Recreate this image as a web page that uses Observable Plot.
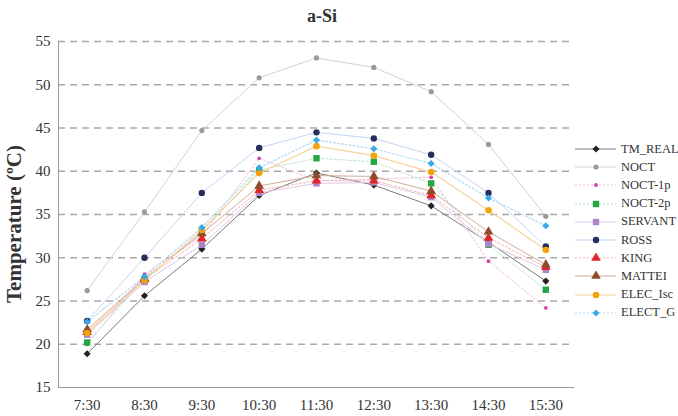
<!DOCTYPE html>
<html>
<head>
<meta charset="utf-8">
<script src="https://cdn.jsdelivr.net/npm/d3@7"></script>
<script src="https://cdn.jsdelivr.net/npm/@observablehq/plot@0.6"></script>
<style>
  body { margin: 0; background: #fff; }
  #wrap { position: relative; width: 678px; height: 416px; overflow: hidden; font-family: "Liberation Serif", "Times New Roman", serif; }
  #title { position: absolute; left: 0; width: 644px; top: 6px; text-align: center; font-weight: bold; font-size: 18px; color: #333; }
  #ylab { position: absolute; left: 14px; top: 224px; transform: translate(-50%, -50%) rotate(-90deg); white-space: nowrap; font-weight: bold; font-size: 21px; color: #333; }
  #legend { position: absolute; left: 575px; top: 140px; font-size: 12.5px; color: #333; }
  .li { height: 18.2px; display: flex; align-items: center; }
  .li svg { margin-right: 5px; }
</style>
</head>
<body>
<div id="wrap">
  <div id="chart"></div>
  <div id="title">a-Si</div>
  <div id="ylab">Temperature (ºC)</div>
  <div id="legend"></div>
</div>
<script>
const times = ["7:30", "8:30", "9:30", "10:30", "11:30", "12:30", "13:30", "14:30", "15:30"];
const seriesNames = ["TM_REAL", "NOCT", "NOCT-1p", "NOCT-2p", "SERVANT", "ROSS", "KING", "MATTEI", "ELEC_Isc", "ELECT_G"];
const TM_REAL  = [18.9, 25.6, 31.0, 37.2, 39.8, 38.4, 36.0, 31.8, 27.3];
const NOCT     = [26.2, 35.3, 44.7, 50.8, 53.1, 52.0, 49.2, 43.1, 34.8];
const NOCT_1p  = [20.0, 28.1, 32.5, 41.5, 38.9, 39.1, 39.3, 29.6, 24.2];
const NOCT_2p  = [20.2, 27.5, 33.0, 40.1, 41.5, 41.1, 38.6, 31.5, 26.3];
const SERVANT  = [21.1, 27.2, 31.5, 37.5, 38.6, 38.7, 37.0, 31.6, 28.6];
const ROSS     = [22.7, 30.0, 37.5, 42.7, 44.5, 43.8, 41.9, 37.5, 31.3];
const KING     = [21.4, 27.5, 32.2, 37.8, 38.9, 38.9, 37.2, 32.3, 28.9];
const MATTEI   = [21.7, 27.6, 32.8, 38.3, 39.5, 39.4, 37.7, 33.0, 29.2];
const ELEC_Isc = [21.3, 27.4, 33.2, 39.8, 42.9, 41.8, 39.9, 35.5, 30.9];
const ELECT_G  = [22.6, 27.8, 33.5, 40.4, 43.6, 42.6, 40.9, 36.9, 33.7];
const yTicks = [15, 20, 25, 30, 35, 40, 45, 50, 55];

const seriesValues = [TM_REAL, NOCT, NOCT_1p, NOCT_2p, SERVANT, ROSS, KING, MATTEI, ELEC_Isc, ELECT_G];

const dia = d3.symbolDiamond2 || d3.symbolDiamond;
const styles = {
  "TM_REAL":  {line: "#7a7a7a", mark: "#222222", sym: dia, r: 3.2, dash: null, w: 1},
  "NOCT":     {line: "#d2d2d2", mark: "#9a9a9a", sym: d3.symbolCircle, r: 2.6, dash: null, w: 1},
  "NOCT-1p":  {line: "#f2bcdc", mark: "#d2449e", sym: d3.symbolCircle, r: 1.9, dash: "2,2", w: 1},
  "NOCT-2p":  {line: "#b9e6c6", mark: "#22a744", sym: d3.symbolSquare, r: 3.6, dash: "2,2", w: 1},
  "SERVANT":  {line: "#ddc9ec", mark: "#ab84cb", sym: d3.symbolSquare, r: 3.6, dash: null, w: 1},
  "ROSS":     {line: "#c3d6f1", mark: "#262e5c", sym: d3.symbolCircle, r: 3.2, dash: null, w: 1},
  "KING":     {line: "#f5b2b2", mark: "#e1262a", sym: d3.symbolTriangle, r: 3.6, dash: "2,2", w: 1},
  "MATTEI":   {line: "#d3aa9a", mark: "#8e4c2c", sym: d3.symbolTriangle, r: 3.6, dash: null, w: 1},
  "ELEC_Isc": {line: "#f8d39c", mark: "#f2a20c", sym: d3.symbolCircle, r: 3.3, dash: null, w: 1.2},
  "ELECT_G":  {line: "#b2dcf4", mark: "#3aa9e9", sym: dia, r: 3.2, dash: "2,2", w: 1.2}
};

const rows = seriesNames.flatMap((name, k) => times.map((t, i) => ({series: name, xi: i, time: t, value: seriesValues[k][i]})));

const marks = [
  Plot.ruleY(yTicks.slice(1), {y: d => d, stroke: "#a9a9a9", strokeWidth: 1.4, strokeDasharray: "7,5"}),
  Plot.ruleY([15], {stroke: "#9a9a9a", strokeWidth: 1}),
  Plot.ruleX([-0.5], {stroke: "#9a9a9a", strokeWidth: 1}),
  Plot.axisY({ticks: yTicks, tickSize: 0, tickPadding: 8, fontSize: 15, fill: "#333", label: null}),
  Plot.axisX({ticks: d3.range(times.length), tickFormat: i => times[i], tickSize: 0, tickPadding: 12, fontSize: 15, fill: "#333", label: null})
];
for (const name of seriesNames) {
  const s = styles[name];
  const d = rows.filter(r => r.series === name);
  marks.push(Plot.line(d, {x: "xi", y: "value", stroke: s.line, strokeWidth: s.w, strokeDasharray: s.dash}));
}
for (const name of seriesNames) {
  const s = styles[name];
  const d = rows.filter(r => r.series === name);
  marks.push(Plot.dot(d, {x: "xi", y: "value", r: s.r, symbol: s.sym, fill: s.mark, stroke: "none"}));
}

const chart = Plot.plot({
  width: 580, height: 416,
  marginLeft: 58, marginRight: 6, marginTop: 41, marginBottom: 29,
  style: {fontFamily: "'Liberation Serif', 'Times New Roman', serif", background: "transparent", overflow: "visible"},
  x: {type: "linear", domain: [-0.5, times.length - 0.5], axis: null},
  y: {domain: [15, 55], axis: null},
  marks
});
document.getElementById("chart").appendChild(chart);

// legend
const leg = d3.select("#legend");
for (const name of seriesNames) {
  const s = styles[name];
  const row = leg.append("div").attr("class", "li");
  const svg = row.append("svg").attr("width", 41).attr("height", 10);
  svg.append("line").attr("x1", 0).attr("x2", 41).attr("y1", 5).attr("y2", 5)
    .attr("stroke", s.line).attr("stroke-width", s.w).attr("stroke-dasharray", s.dash);
  svg.append("path").attr("transform", "translate(21,5)")
    .attr("d", d3.symbol(s.sym, Math.PI * s.r * s.r)()).attr("fill", s.mark);
  row.append("span").text(name);
}
</script>
</body>
</html>
